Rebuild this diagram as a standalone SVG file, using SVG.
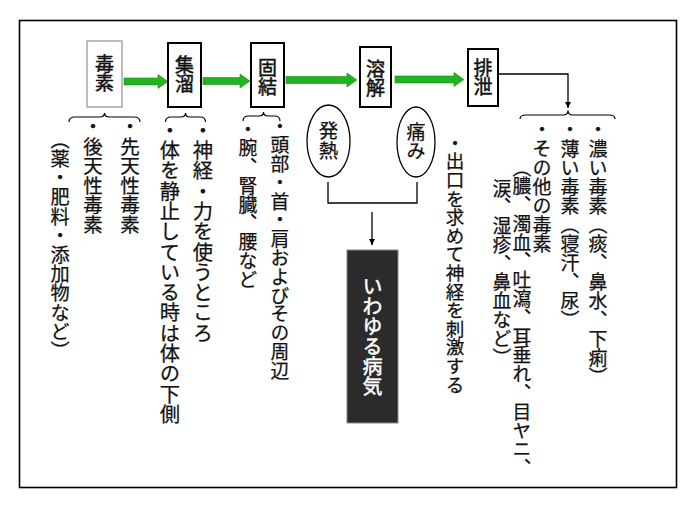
<svg xmlns="http://www.w3.org/2000/svg" width="700" height="509" viewBox="0 0 700 509">
<style>
  .t { font-family: "Noto Sans CJK JP", "Noto Sans CJK SC", sans-serif; fill: #111; stroke: #111; stroke-width: 0.25; writing-mode: vertical-rl; }
  .lbl { font-family: "Noto Sans CJK JP", "Noto Sans CJK SC", sans-serif; fill: #111; stroke: #111; stroke-width: 0.5; writing-mode: vertical-rl; font-size: 19px; }
  .box { fill: #fff; stroke: #000; stroke-width: 2; }
  .ln { fill: none; stroke: #000; stroke-width: 1.3; }
  .brace { fill: none; stroke: #000; stroke-width: 1.2; }
  .green { fill: #22b322; stroke: #1a901a; stroke-width: 0.6; }
  .ell { fill: #fff; stroke: #000; stroke-width: 1.3; }
</style>
<defs>
  <marker id="ah" viewBox="0 0 10 10" refX="10" refY="5" markerWidth="6" markerHeight="6" markerUnits="userSpaceOnUse" orient="auto">
    <path d="M0,0 L10,5 L0,10 z" fill="#000"/>
  </marker>
</defs>
<rect x="0" y="0" width="700" height="509" fill="#fff"/>
<rect id="frame" x="19.5" y="20.5" width="657" height="467" fill="none" stroke="#000" stroke-width="1.6"/>

<g id="connectors">
  <polygon class="green" points="124,78 158,78 158,74.5 168,81.5 158,88.5 158,85 124,85"/>
  <polygon class="green" points="203,77.5 240,77.5 240,74 250,81 240,88 240,84.5 203,84.5"/>
  <polygon class="green" points="286,76.5 347,76.5 347,73 357,80 347,87 347,83.5 286,83.5"/>
  <polygon class="green" points="395,76 454,76 454,72.5 464,79.5 454,86.5 454,83 395,83"/>
  <path class="ln" d="M498,74 H568 V108" marker-end="url(#ah)"/>
  <path class="ln" d="M328,182 V203 H417 V182"/>
  <path class="ln" d="M372,212 V245" marker-end="url(#ah)"/>
  <path class="brace" d="M69,122 Q69,117 75,117 L99.5,117 Q104.5,117 104.5,113 Q104.5,117 109.5,117 L134,117 Q140,117 140,122"/>
  <path class="brace" d="M165.5,122 Q165.5,117 171,117 L181,117 Q185.5,117 185.5,113 Q185.5,117 190,117 L200,117 Q205.5,117 205.5,122"/>
  <path class="brace" d="M243,121 Q243,116 248.5,116 L259,116 Q263.5,116 263.5,112 Q263.5,116 268,116 L274.5,116 Q280,116 280,121"/>
  <path class="brace" d="M520,119 Q520,115 526,115 L563,115 Q568,115 568,110.5 Q568,115 573,115 L609,115 Q615,115 615,119"/>
</g>

<g id="n-dokuso">
  <rect x="87" y="41" width="35" height="66" fill="#fff" stroke="#999" stroke-width="1.3"/>
  <text class="lbl" x="104.5" y="54">毒素</text>
</g>
<g id="n-shuryu">
  <rect class="box" x="168" y="43" width="33" height="64"/>
  <text class="lbl" x="184.5" y="55">集溜</text>
</g>
<g id="n-koketsu">
  <rect class="box" x="251" y="43" width="33" height="64"/>
  <text class="lbl" x="267.5" y="58">固結</text>
</g>
<g id="n-yokai">
  <rect class="box" x="360" y="47" width="31" height="60"/>
  <text class="lbl" x="375.5" y="59">溶解</text>
</g>
<g id="n-haisetsu">
  <rect class="box" x="468" y="49" width="30" height="57"/>
  <text class="lbl" x="483" y="58">排泄</text>
</g>

<g id="n-dokuso-notes">
  <text class="t" x="130" y="117" font-size="19.5">・先天性毒素</text>
  <text class="t" x="93" y="117" font-size="19.5">・後天性毒素</text>
  <text class="t" x="60" y="130" font-size="19.2">（薬・肥料・添加物など）</text>
</g>
<g id="n-shuryu-notes">
  <text class="t" x="203" y="120" font-size="20.3">・神経・力を使うところ</text>
  <text class="t" x="170" y="120" font-size="20.3">・体を静止している時は体の下側</text>
</g>
<g id="n-koketsu-notes">
  <text class="t" x="280" y="117" font-size="18.8">・頭部・首・肩およびその周辺</text>
  <text class="t" x="248" y="120" font-size="18.8">・腕、腎臓、腰など</text>
</g>
<g id="n-hatsunetsu">
  <ellipse class="ell" cx="328.5" cy="141" rx="21.5" ry="36"/>
  <text class="t" x="328.5" y="121" font-size="19.5">発熱</text>
</g>
<g id="n-itami">
  <ellipse class="ell" cx="416" cy="142" rx="19" ry="35"/>
  <text class="t" x="416" y="122" font-size="19">痛み</text>
</g>
<g id="n-yokai-notes">
  <text class="t" x="455" y="133.5" font-size="18.6">・出口を求めて神経を刺激する</text>
</g>
<g id="n-byoki">
  <rect x="347" y="250" width="51" height="173" fill="#2b2b2b" stroke="#888" stroke-width="1"/>
  <text class="t" x="372.5" y="276" font-size="20" style="fill:#fff;stroke:#fff;stroke-width:0.5">いわゆる病気</text>
</g>
<g id="n-haisetsu-notes">
  <text class="t" x="598" y="120" font-size="19">・濃い毒素（痰、鼻水、下痢）</text>
  <text class="t" x="570" y="120" font-size="19">・薄い毒素（寝汗、尿）</text>
  <text class="t" x="542" y="120" font-size="19">・その他の毒素</text>
  <text class="t" x="522" y="158" font-size="18.8">（膿、濁血、吐瀉、耳垂れ、目ヤニ、</text>
  <text class="t" x="502" y="179" font-size="18.8">涙、湿疹、鼻血など）</text>
</g>
</svg>
